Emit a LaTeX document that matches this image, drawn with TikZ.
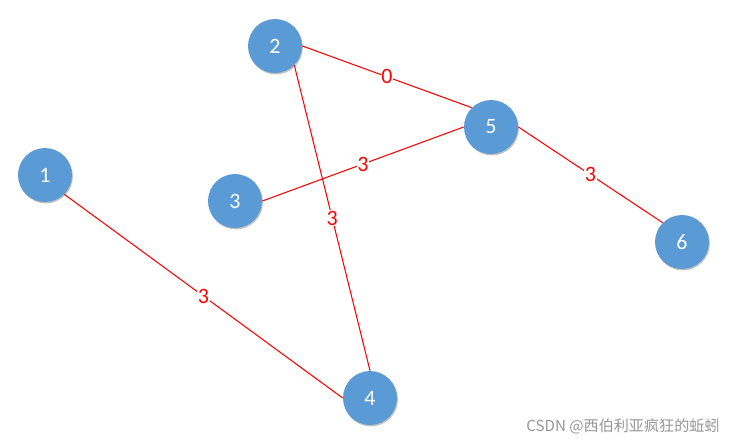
\documentclass[tikz,border=0pt]{standalone}
\usepackage{fontspec}
\setmainfont{Carlito}
\newfontfamily\cjkfont{Noto Sans CJK SC}
\definecolor{nodeblue}{RGB}{91,155,213}
\definecolor{edgered}{RGB}{255,0,0}
\definecolor{markgray}{RGB}{150,150,150}
\usetikzlibrary{shadows}
\begin{document}
\begin{tikzpicture}[x=0.02cm,y=-0.02cm,
  vert/.style={circle,fill=nodeblue,minimum size=1.08cm,inner sep=0pt,text=white,font=\fontsize{12.5}{14}\selectfont,
    drop shadow={shadow xshift=0.5pt,shadow yshift=-0.8pt,opacity=0.25,fill=black}},
  edge/.style={draw=edgered,line width=0.6pt},
  wt/.style={fill=white,inner sep=0.5pt,text=edgered,font=\fontsize{12.5}{14}\selectfont}]
  \useasboundingbox (0,0) rectangle (734,442);
  \node[vert] (v1) at (45,175) {1};
  \node[vert] (v2) at (275,46) {2};
  \node[vert] (v3) at (235,201) {3};
  \node[vert] (v4) at (370,398) {4};
  \node[vert] (v5) at (491,127) {5};
  \node[vert] (v6) at (682,242) {6};
  \draw[edge] (v2.east) -- node[wt] {0} (v5.north west);
  \draw[edge] (v3.east) -- node[wt] {3} (v5.west);
  \draw[edge] (v2.south east) -- node[wt] {3} (v4.north);
  \draw[edge] (v5.east) -- node[wt] {3} (v6.north west);
  \draw[edge] (v1.south east) -- node[wt] {3} (v4.west);
  \node[text=markgray,inner sep=0pt,font=\cjkfont\fontsize{8.6}{10}\selectfont,anchor=east] (mark) at (720,426) {CSDN @西伯利亚疯狂的蚯蚓};
\end{tikzpicture}
\end{document}
